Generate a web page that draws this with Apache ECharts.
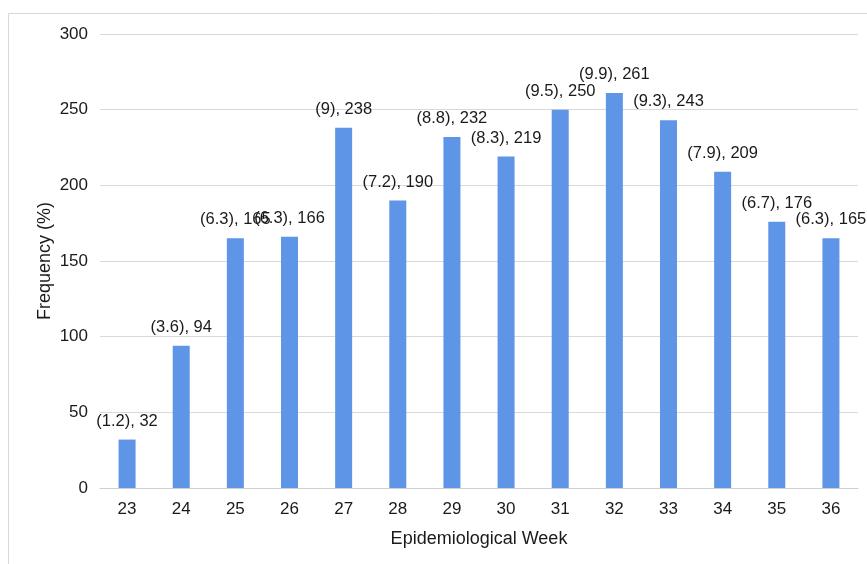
<!DOCTYPE html>
<html>
<head>
<meta charset="utf-8">
<script src="https://cdn.jsdelivr.net/npm/echarts@6/dist/echarts.min.js"></script>
<style>
  html, body { margin: 0; padding: 0; background: #fff; }
  #chart { width: 867px; height: 564px; }
</style>
</head>
<body>
<div id="chart"></div>
<script>
// Weekly case counts with their share of the total (%)
const weeks = ['23', '24', '25', '26', '27', '28', '29', '30', '31', '32', '33', '34', '35', '36'];
const counts = [32, 94, 165, 166, 238, 190, 232, 219, 250, 261, 243, 209, 176, 165];
const percents = ['1.2', '3.6', '6.3', '6.3', '9', '7.2', '8.8', '8.3', '9.5', '9.9', '9.3', '7.9', '6.7', '6.3'];
const yTicks = [0, 50, 100, 150, 200, 250, 300];

const font = 'Liberation Sans, Arial, sans-serif';
const chart = echarts.init(document.getElementById('chart'));

chart.setOption({
  animation: false,
  backgroundColor: '#fff',
  graphic: [{
    type: 'rect',
    shape: { x: 8.5, y: 13.5, width: 900, height: 600 },
    style: { fill: 'none', stroke: '#d9d9d9', lineWidth: 1 },
    silent: true,
    z: -1
  }],
  grid: { left: 100, right: 9, top: 34, bottom: 76 },
  xAxis: {
    type: 'category',
    data: weeks,
    name: 'Epidemiological Week',
    nameLocation: 'middle',
    nameGap: 42,
    nameMoveOverlap: false,
    nameTextStyle: { fontFamily: font, fontSize: 18, color: '#1a1a1a' },
    axisLine: { lineStyle: { color: '#d0d0d0' } },
    axisTick: { show: false },
    axisLabel: { fontFamily: font, fontSize: 17, color: '#1a1a1a', margin: 13 }
  },
  yAxis: {
    type: 'value',
    min: yTicks[0],
    max: yTicks[yTicks.length - 1],
    interval: 50,
    name: 'Frequency (%)',
    nameLocation: 'middle',
    nameGap: 46,
    nameMoveOverlap: false,
    nameTextStyle: { fontFamily: font, fontSize: 18, color: '#1a1a1a' },
    axisLine: { show: false },
    axisTick: { show: false },
    axisLabel: { fontFamily: font, fontSize: 17, color: '#1a1a1a', margin: 12 },
    splitLine: { lineStyle: { color: '#d9d9d9' } }
  },
  series: [{
    type: 'bar',
    data: counts,
    barWidth: 17,
    itemStyle: { color: '#5E95E6' },
    label: {
      show: true,
      position: 'top',
      distance: 10,
      fontFamily: font,
      fontSize: 16.5,
      color: '#1a1a1a',
      formatter: p => '(' + percents[p.dataIndex] + '), ' + counts[p.dataIndex]
    }
  }]
});
</script>
</body>
</html>
